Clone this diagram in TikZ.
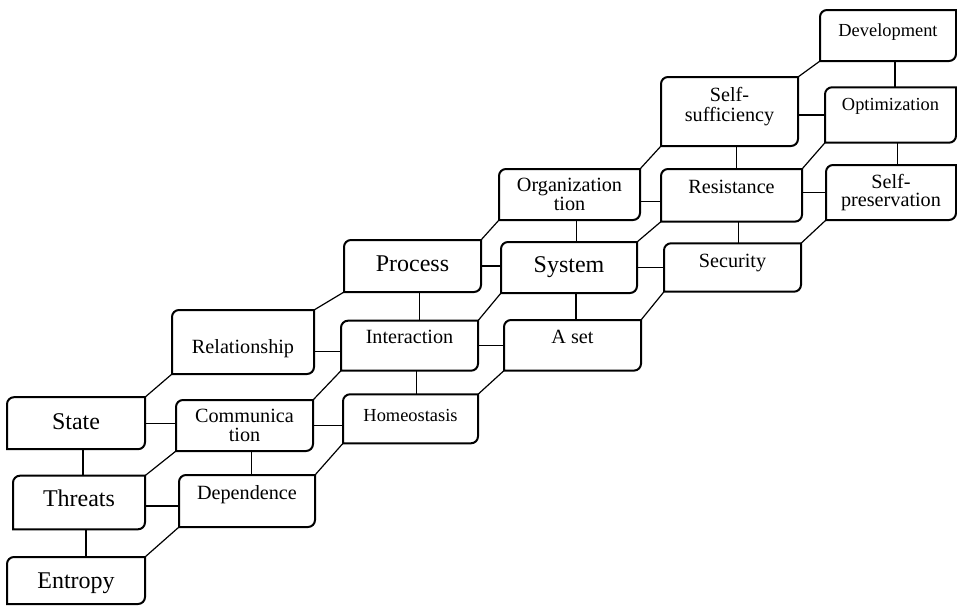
\documentclass[tikz,border=0pt]{standalone}
\usepackage{fontspec}
\setmainfont{Liberation Serif}
\usetikzlibrary{calc}
\newcommand{\fbig}{\fontsize{12pt}{11pt}\selectfont}
\newcommand{\fmid}{\fontsize{10.1pt}{9.2pt}\selectfont}
\newcommand{\fsmall}{\fontsize{9.2pt}{9pt}\selectfont}
\newcommand{\liftup}[2]{\raisebox{#1}[\height][\depth]{#2}}
\newcommand{\stepframe}[1]{%
  \draw[line width=1pt,line cap=rect,rounded corners=3.5pt] (#1.north east) -- (#1.north west) -- (#1.south west)
    (#1.south west) -- (#1.south east) -- (#1.north east);}
\tikzstyle{stepbox} = [rectangle,inner sep=0pt,outer sep=0pt,minimum width=68.5pt,minimum height=25.5pt,align=center,font=\fmid]
\tikzstyle{link} = [line width=0.6pt]

\begin{document}
\begin{tikzpicture}[x=0.5pt,y=-0.5pt]
	\useasboundingbox (0,0) rectangle (957,606);
	
	%% nodes
	\node[stepbox,font=\fbig,minimum width=69pt,minimum height=26pt] (st) at (76,423.2) {\liftup{1pt}{State}};
	\node[stepbox,font=\fbig,minimum width=66pt,minimum height=26.8pt] (th) at (79,502.5) {\liftup{2.1pt}{Threats}};
	\node[stepbox,font=\fbig,minimum width=69pt,minimum height=23.5pt] (en) at (76,580.5) {\liftup{-1.3pt}{Entropy}};
	\node[stepbox] (com) at (244.5,425.5) {Communica\\tion};
	\node[stepbox,minimum width=68pt,minimum height=26pt] (dep) at (247,501) {\liftup{3pt}{Dependence}};
	\node[stepbox,minimum width=71pt,minimum height=32pt] (rel) at (243,342) {\liftup{-3.1pt}{Relationship}};
	\node[stepbox,font=\fbig,minimum height=26pt] (proc) at (412.5,266) {\liftup{1.3pt}{Process}};
	\node[stepbox,minimum height=25pt] (inter) at (409.5,345.7) {\liftup{4.25pt}{Interaction}};
	\node[stepbox,font=\fsmall,minimum width=67.5pt,minimum height=24.5pt] (homeo) at (410.5,418.8) {\liftup{1.5pt}{Homeostasis}};
	\node[stepbox,minimum width=70.5pt] (org) at (569.5,194.5) {Organization\\tion};
	\node[stepbox,font=\fbig,minimum width=68pt] (sys) at (569,267.5) {System};
	\node[stepbox,minimum height=25.3pt] (aset) at (572.5,345.3) {\liftup{4.15pt}{A set}};
	\node[stepbox,minimum height=34.5pt] (selfsuf) at (729.5,111.5) {\liftup{2pt}{\begin{tabular}{@{}c@{}}Self-\\sufficiency\end{tabular}}};
	\node[stepbox,minimum width=70.5pt,minimum height=26.3pt] (res) at (731.5,195.3) {\liftup{4.3pt}{Resistance}};
	\node[stepbox,minimum height=24.2pt] (sec) at (732.5,267.5) {\liftup{2.5pt}{Security}};
	\node[stepbox,font=\fsmall,minimum width=68pt] (dev) at (888,35.5) {\liftup{1.85pt}{Development}};
	\node[stepbox,font=\fsmall,minimum width=65.5pt,minimum height=27.7pt] (opt) at (890.5,115) {\liftup{4.4pt}{Optimization}};
	\node[stepbox,minimum width=65pt,minimum height=27.5pt] (selfpres) at (891,192.5) {Self-\\preservation};
	
	%% frames
	\foreach \n in {st,th,en,com,dep,rel,proc,inter,homeo,org,sys,aset,selfsuf,res,sec,dev,opt,selfpres}
		\stepframe{\n};
	
	%% edges across
	\draw[link] (st.east) -- (st.east -| com.west);
	\draw[link] ([yshift=-1.75pt]th.east) -- ([yshift=-1.75pt]th.east -| dep.west);
	\draw[link] ([yshift=-3pt]inter.west -| rel.east) -- ([yshift=-3pt]inter.west);
	\draw[link] (com.east) -- (com.east -| homeo.west);
	\draw[link] (proc.east) -- (proc.east -| sys.west);
	\draw[link] (inter.east) -- (inter.east -| aset.west);
	\draw[link] ([yshift=-3.25pt]res.west -| org.east) -- ([yshift=-3.25pt]res.west);
	\draw[link] (sys.east) -- (sys.east -| sec.west);
	\draw[link] (opt.west -| selfsuf.east) -- (opt.west);
	\draw[link] (selfpres.west -| res.east) -- (selfpres.west);
	
	%% edges down
	\draw[link] ([xshift=3.5pt]st.south) -- ([xshift=3.5pt]st.south |- th.north);
	\draw[link] ([xshift=3.5pt]th.south) -- ([xshift=3.5pt]th.south |- en.north);
	\draw[link] ([xshift=3.5pt]com.south) -- ([xshift=3.5pt]com.south |- dep.north);
	\draw[link] ([xshift=3.5pt]proc.south) -- ([xshift=3.5pt]proc.south |- inter.north);
	\draw[link] ([xshift=3.5pt]inter.south) -- ([xshift=3.5pt]inter.south |- homeo.north);
	\draw[link] ([xshift=3.5pt]org.south) -- ([xshift=3.5pt]org.south |- sys.north);
	\draw[link] ([xshift=3.5pt]sys.south) -- ([xshift=3.5pt]sys.south |- aset.north);
	\draw[link] ([xshift=3.5pt]selfsuf.south) -- ([xshift=3.5pt]selfsuf.south |- res.north);
	\draw[link] ([xshift=3.5pt]res.south) -- ([xshift=3.5pt]res.south |- sec.north);
	\draw[link] ([xshift=3.5pt]dev.south) -- ([xshift=3.5pt]dev.south |- opt.north);
	\draw[link] ([xshift=3.5pt]opt.south) -- ([xshift=3.5pt]opt.south |- selfpres.north);
	
	%% edges diagonal
	\draw[link] (st.north east) -- (rel.south west);
	\draw[link] (rel.north east) -- (proc.south west);
	\draw[link] (proc.north east) -- (org.south west);
	\draw[link] (org.north east) -- (selfsuf.south west);
	\draw[link] (selfsuf.north east) -- (dev.south west);
	\draw[link] (th.north east) -- (com.south west);
	\draw[link] (com.north east) -- (inter.south west);
	\draw[link] (inter.north east) -- (sys.south west);
	\draw[link] (sys.north east) -- (res.south west);
	\draw[link] (res.north east) -- (opt.south west);
	\draw[link] (en.north east) -- (dep.south west);
	\draw[link] (dep.north east) -- (homeo.south west);
	\draw[link] (homeo.north east) -- (aset.south west);
	\draw[link] (aset.north east) -- (sec.south west);
	\draw[link] (sec.north east) -- (selfpres.south west);
\end{tikzpicture}
\end{document}
